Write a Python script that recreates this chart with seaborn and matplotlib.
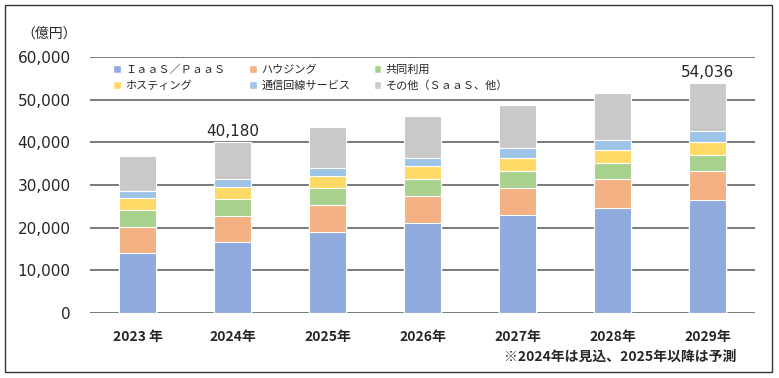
import seaborn as sns
import numpy as np
import pandas as pd
import matplotlib.pyplot as plt
from matplotlib.patches import Patch, Rectangle

# データ（億円）
years = ['2023 年', '2024年', '2025年', '2026年', '2027年', '2028年', '2029年']
iaas = [14000, 16550, 18950, 21150, 22900, 24600, 26500]
housing = [6150, 6250, 6350, 6350, 6500, 6700, 6700]
colo = [4000, 3950, 3950, 3950, 3900, 3900, 3900]
hosting = [2750, 2900, 2800, 2950, 3000, 3000, 2950]
network = [1700, 1800, 1950, 2000, 2300, 2400, 2550]
other = [8100, 8730, 9600, 9850, 10250, 10900, 11436]

series_names = ['ＩａａＳ／ＰａａＳ', 'ハウジング', '共同利用',
                'ホスティング', '通信回線サービス', 'その他（ＳａａＳ、他）']
colors = ['#8FAADC', '#F4B183', '#A9D18E', '#FFD966', '#9DC3E6', '#C9C9C9']
labelled = {1: '40,180', 6: '54,036'}

sns.set_style('white')
plt.rcParams['font.family'] = ['Noto Sans CJK JP', 'DejaVu Sans']

df = pd.DataFrame({'year': years, 'a': iaas, 'b': housing, 'c': colo,
                   'd': hosting, 'e': network, 'f': other})
cols = ['a', 'b', 'c', 'd', 'e', 'f']
cum = df[cols].cumsum(axis=1)

fig = plt.figure(figsize=(7.79, 3.78), dpi=100)
ax = fig.add_axes([0.1155, 0.172, 0.854, 0.677])

# 積み上げ：累積値を上から順に重ねて描く
for i in range(len(cols) - 1, -1, -1):
    sns.barplot(x=df['year'], y=cum[cols[i]], color=colors[i], width=0.39,
                edgecolor='white', linewidth=0.8, saturation=1, ax=ax)

ax.set_ylim(0, 60000)
ax.set_xlim(-0.5, 6.5)
ax.set_yticks(np.arange(0, 60001, 10000))
ax.set_yticklabels([f'{v:,}' for v in range(0, 60001, 10000)],
                   fontsize=11, family='DejaVu Sans')
ax.yaxis.grid(True, color='#6e6e6e', linewidth=1.3)
ax.set_axisbelow(True)
ax.set_xlabel('')
ax.set_ylabel('')
for s in ax.spines.values():
    s.set_visible(False)
ax.tick_params(axis='y', length=0, pad=14)
ax.tick_params(axis='x', length=0, pad=12)
for t in ax.get_xticklabels():
    t.set_fontsize(10)
    t.set_fontweight('bold')

totals = cum['f'].values
for i, txt in labelled.items():
    ax.text(i, totals[i] + 600, txt, ha='center', va='bottom', fontsize=11,
            family='DejaVu Sans')

# 凡例は行順に並べる（matplotlibは列順で埋める）
order = [0, 3, 1, 4, 2, 5]
handles = [Patch(facecolor=colors[k], label=series_names[k]) for k in order]
ax.legend(handles=handles, ncol=3, loc='upper left', bbox_to_anchor=(0.02, 1.01),
          frameon=False, fontsize=8, handlelength=0.7, handleheight=0.7,
          handletextpad=0.4, columnspacing=2.1, labelspacing=0.5)

fig.text(0.028, 0.912, '（億円）', fontsize=10, va='center')
fig.text(0.945, 0.056, '※2024年は見込、2025年以降は予測', ha='right', va='center',
         fontsize=10, fontweight='bold')

fig.patches.append(Rectangle((0.006, 0.016), 0.985, 0.97, transform=fig.transFigure,
                             fill=False, edgecolor='#333333', linewidth=1))

fig.savefig('out.png', dpi=100)
